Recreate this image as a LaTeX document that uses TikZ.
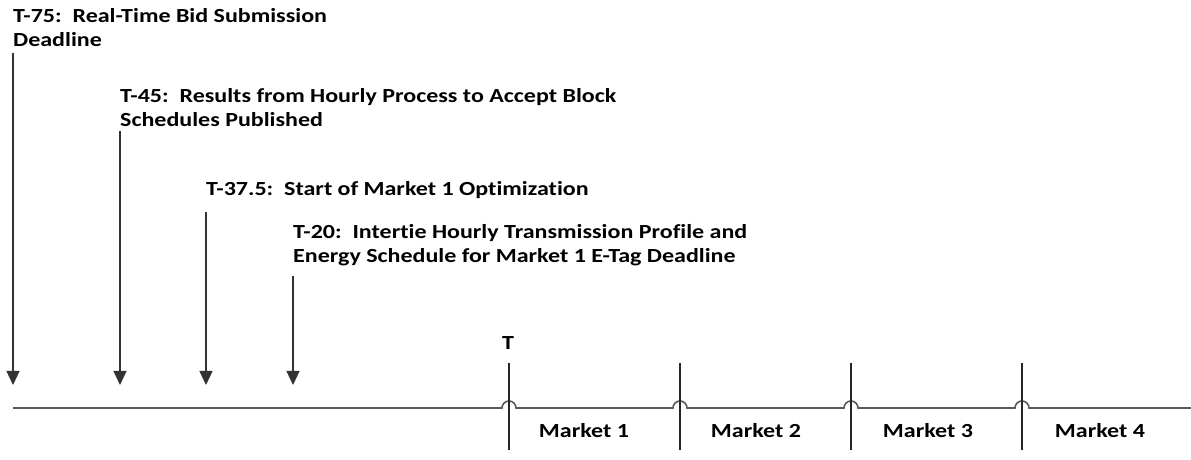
\documentclass[tikz,border=0pt]{standalone}
\usepackage{fontspec}
\setmainfont{Carlito}[FakeStretch=1.2, Ligatures=NoCommon]
\usetikzlibrary{arrows.meta}
\tikzstyle{tlabel} = [anchor=base west, inner sep=0pt, align=left,
                     font=\bfseries\fontsize{20}{23.5}\selectfont]
\tikzstyle{mlabel} = [anchor=base, inner sep=0pt,
                     font=\bfseries\fontsize{20}{23.5}\selectfont]
\tikzstyle{deadline} = [draw=black!80, line width=1.2pt,
                     -{Triangle[length=14pt,width=13pt]}]
\tikzstyle{timeline} = [draw=black!65, line width=1.6pt]
\tikzstyle{boundary} = [draw=black!85, line width=1.1pt]

\begin{document}
\begin{tikzpicture}[x=1pt, y=1pt]
\useasboundingbox (0,0) rectangle (1191,460);
\coordinate (tips) at (0,75);

%Deadlines
\node[tlabel] at (13,413.5) (t75){T-75:\ \ Real-Time Bid Submission\\Deadline};
\node[tlabel] at (120,333.5) (t45){T-45:\ \ Results from Hourly Process to Accept Block\\Schedules Published};
\node[tlabel] at (206,264) (t37){T-37.5:\ \ Start of Market 1 Optimization};
\node[tlabel] at (293,197.5) (t20){T-20:\ \ Intertie Hourly Transmission Profile and\\Energy Schedule for Market 1 E-Tag Deadline};

\draw[deadline] ([yshift=-6pt]t75.south west) -- (t75.south west |- tips);
\draw[deadline] ([yshift=-4pt]t45.south west) -- (t45.south west |- tips);
\draw[deadline] ([yshift=-13pt]t37.south west) -- (t37.south west |- tips);
\draw[deadline] ([yshift=-10pt]t20.south west) -- (t20.south west |- tips);

%Timeline
\draw[timeline] (13,52) \foreach \x in {509,680,851,1022} { -- (\x-7,52) arc (180:0:7) } -- (1191,52);
\foreach \x in {509,680,851,1022}
  \draw[boundary] (\x,97) -- (\x,10);

\node[mlabel] at (508,110) (tnow){T};

%Markets
\node[mlabel] at (584,22.5) (m1){Market 1};
\node[mlabel] at (756,22.5) (m2){Market 2};
\node[mlabel] at (928,22.5) (m3){Market 3};
\node[mlabel] at (1100,22.5) (m4){Market 4};
\end{tikzpicture}
\end{document}
